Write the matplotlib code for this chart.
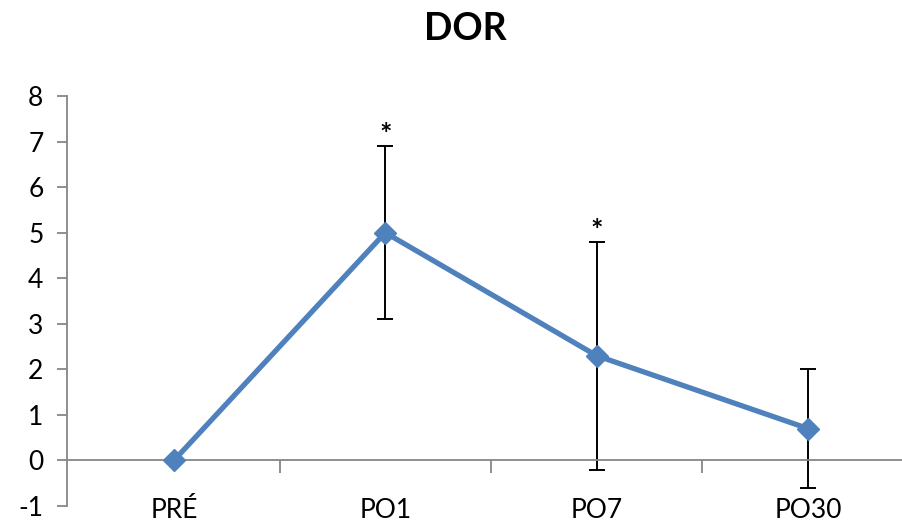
import numpy as np
import matplotlib.pyplot as plt

plt.rcParams['font.family'] = ['Lato', 'DejaVu Sans']
plt.rcParams['axes.unicode_minus'] = False

categorias = ['PRÉ', 'PO1', 'PO7', 'PO30']
dor = np.array([0.0, 5.0, 2.3, 0.7])
desvio = np.array([0.0, 1.9, 2.5, 1.3])
signif = [False, True, True, False]

fig = plt.figure(figsize=(9.03, 5.24), dpi=100)
ax = fig.add_axes([0.0742, 0.0344, 0.9258, 0.7824])

x = np.arange(len(categorias))
cinza = '#868686'

ax.errorbar(x[1:], dor[1:], yerr=desvio[1:], fmt='none', ecolor='black',
            elinewidth=1.4, capsize=6, capthick=1.4, zorder=2)
ax.plot(x, dor, color='#4F81BD', lw=3.8, marker='D', ms=11,
        markeredgecolor='#4F81BD', zorder=3)

for xi, yi, e, s in zip(x, dor, desvio, signif):
    if s:
        ax.text(xi, yi + e - 0.05, '*', ha='center', va='bottom', fontsize=21,
                fontweight='bold')

ax.set_xlim(-0.506, 3.45)
ax.set_ylim(-1, 8)
ax.set_yticks(range(-1, 9))
ax.tick_params(axis='y', direction='out', length=7, color=cinza, width=1.3,
               labelsize=19, pad=10)

ax.spines['top'].set_visible(False)
ax.spines['right'].set_visible(False)
ax.spines['left'].set_color(cinza)
ax.spines['left'].set_linewidth(1.3)
ax.spines['bottom'].set_position(('data', 0))
ax.spines['bottom'].set_color(cinza)
ax.spines['bottom'].set_linewidth(1.3)

ax.set_xticks([0.5, 1.5, 2.5])
ax.set_xticklabels([])
ax.tick_params(axis='x', direction='out', length=9, color=cinza, width=1.3)

for xi, c in zip(x, categorias):
    ax.text(xi, -1.1, c, ha='center', va='center', fontsize=19)

fig.text(0.515, 0.945, 'DOR', ha='center', va='center', fontsize=27,
         fontweight='bold')

fig.savefig('out.png', dpi=100)
